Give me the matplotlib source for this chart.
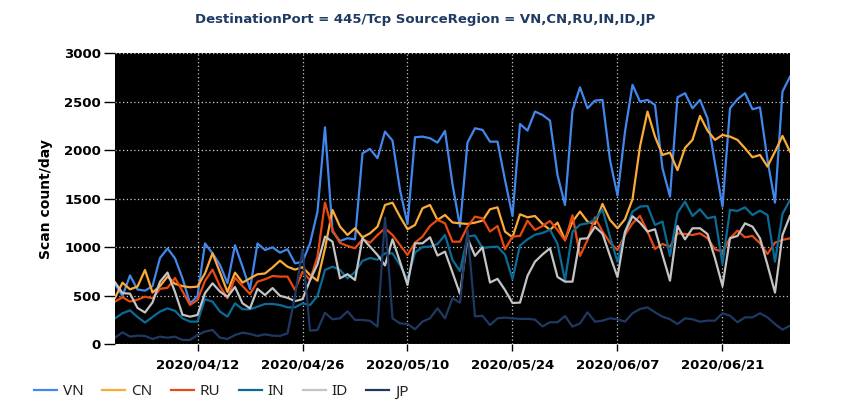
import pandas as pd
import numpy as np
import matplotlib
matplotlib.use('Agg')
import matplotlib.pyplot as plt
import matplotlib.dates as mdates

plt.rcParams['font.family'] = ['DejaVu Sans']

dates = pd.date_range(start='2020-04-01', periods=91)

vn = [620, 500, 710, 565, 553, 600, 890, 988, 886, 680, 422, 495, 1040, 938, 818, 630,
      1022, 800, 570, 1040, 972, 1000, 945, 980, 835, 850, 1040, 1368, 2237, 1161, 1065,
      1093, 1082, 1969, 2014, 1918, 2192, 2100, 1591, 1241, 2134, 2141, 2124, 2079, 2199,
      1650, 1213, 2079, 2227, 2210, 2089, 2089, 1694, 1323, 2271, 2203, 2399, 2364, 2306,
      1746, 1436, 2409, 2649, 2433, 2512, 2519, 1900, 1533, 2192, 2674, 2502, 2519, 2467,
      1814, 1522, 2546, 2588, 2433, 2519, 2330, 1866, 1419, 2433, 2526, 2588, 2423, 2443,
      1900, 1460, 2605, 2759]
cn = [480, 635, 567, 595, 766, 534, 600, 698, 624, 600, 588, 595, 732, 938, 740, 540,
      739, 636, 680, 722, 730, 792, 862, 800, 770, 795, 715, 655, 990, 1385, 1213,
      1127, 1196, 1103, 1144, 1213, 1436, 1460, 1316, 1186, 1230, 1402, 1436, 1282, 1333,
      1256, 1247, 1241, 1254, 1275, 1392, 1412, 1162, 1103, 1340, 1309, 1323, 1241, 1179,
      1254, 1075, 1265, 1368, 1265, 1241, 1447, 1282, 1196, 1289, 1495, 2038, 2399, 2141,
      1952, 1976, 1795, 2024, 2107, 2354, 2203, 2107, 2158, 2141, 2107, 2021, 1928, 1952,
      1832, 1986, 2148, 1986]
ru = [440, 485, 440, 460, 491, 474, 572, 582, 684, 548, 405, 457, 654, 770, 598, 474,
      687, 601, 519, 646, 670, 704, 698, 698, 560, 749, 663, 904, 1460, 1179, 1045,
      1014, 990, 1082, 1048, 1127, 1196, 1127, 1024, 921, 1048, 1110, 1220, 1282, 1247,
      1058, 1058, 1213, 1316, 1299, 1162, 1220, 979, 1110, 1117, 1275, 1179, 1220, 1271,
      1179, 1069, 1330, 911, 1076, 1309, 1162, 1048, 972, 1127, 1247, 1323, 1162, 983,
      1034, 1007, 1144, 1137, 1127, 1144, 1093, 979, 955, 1093, 1172, 1103, 1117, 1041,
      931, 1048, 1076, 1093]
in_ = [268, 320, 350, 282, 224, 282, 337, 371, 345, 268, 234, 234, 464, 440, 337, 285,
       423, 361, 361, 388, 416, 416, 405, 381, 381, 423, 405, 498, 766, 800, 766,
       680, 745, 860, 890, 872, 938, 938, 818, 663, 946, 1003, 1007, 1034, 1127,
       870, 755, 1110, 1122, 993, 1003, 1007, 924, 673, 1019, 1082, 1130, 1147, 1182,
       1036, 658, 1160, 1233, 1247, 1285, 1392, 1110, 852, 1161, 1368, 1419, 1426, 1230,
       1265, 911, 1354, 1471, 1323, 1392, 1299, 1316, 828, 1385, 1375, 1412, 1333, 1378,
       1333, 852, 1344, 1488]
id_ = [640, 528, 522, 375, 328, 432, 645, 740, 540, 305, 285, 302, 528, 629, 543, 490,
       591, 423, 371, 572, 508, 580, 500, 480, 445, 465, 660, 826, 1110, 1058, 680,
       723, 663, 1093, 1007, 921, 813, 1082, 852, 612, 1041, 1041, 1103, 915, 955,
       740, 520, 1093, 912, 1000, 637, 675, 560, 426, 430, 706, 852, 926, 990,
       694, 646, 646, 1087, 1093, 1212, 1140, 912, 694, 1157, 1320, 1254, 1162, 1186,
       921, 656, 1220, 1082, 1196, 1196, 1137, 887, 601, 1093, 1117, 1247, 1213, 1093,
       818, 533, 1127, 1323]
jp = [68, 124, 79, 89, 86, 55, 79, 68, 79, 45, 45, 96, 131, 148, 68, 55,
      96, 120, 107, 86, 103, 89, 86, 113, 500, 979, 141, 148, 326, 258, 268,
      340, 251, 251, 242, 182, 1305, 268, 216, 210, 155, 234, 268, 371, 268,
      474, 430, 1179, 288, 294, 199, 268, 275, 268, 262, 262, 255, 185, 227,
      227, 292, 182, 216, 330, 233, 244, 268, 258, 234, 320, 364, 381, 330,
      285, 258, 209, 268, 258, 233, 244, 244, 320, 295, 227, 278, 278, 320,
      278, 209, 151, 192]

regions = ['VN', 'CN', 'RU', 'IN', 'ID', 'JP']
series = [vn, cn, ru, in_, id_, jp]
colors = ['#4287ec', '#fbab38', '#e84a12', '#0a6c96', '#c4c4c4', '#1f3964']

fig = plt.figure(figsize=(8.5, 4.2), dpi=100)
ax = fig.add_axes([0.1353, 0.1802, 0.7941, 0.6930])
ax.set_facecolor('black')

for name, vals, c in zip(regions, series, colors):
    ax.plot(dates, vals, color=c, linewidth=1.6, label=name)

ax.set_xlim(dates[0], dates[-1])
ax.set_ylim(0, 3000)
ax.set_yticks([0, 500, 1000, 1500, 2000, 2500, 3000])
ax.set_xticks(pd.date_range('2020-04-12', '2020-06-30', freq='14D'))
ax.xaxis.set_major_formatter(mdates.DateFormatter('%Y/%m/%d'))

for s in ax.spines.values():
    s.set_visible(False)
ax.grid(True, color='#c8c8c8', linestyle=(0, (1, 2)), linewidth=0.9)
ax.tick_params(axis='y', length=8, width=1, labelsize=9.5, pad=2)
ax.tick_params(axis='x', length=5, width=1, labelsize=9.5, pad=5)
for lab in ax.get_xticklabels() + ax.get_yticklabels():
    lab.set_fontweight('bold')

ax.set_ylabel('Scan count/day', fontsize=10, fontweight='bold', labelpad=8)
fig.suptitle('DestinationPort = 445/Tcp SourceRegion = VN,CN,RU,IN,ID,JP',
             x=0.5, y=0.968, fontsize=9.5, fontweight='bold', color='#1f3a63')

fig.legend(loc='center left', bbox_to_anchor=(0.04, 0.0667), ncol=6, frameon=False,
           prop={'family': 'Noto Sans', 'size': 11}, handlelength=1.5,
           handletextpad=0.4, columnspacing=1.2,
           borderpad=0, borderaxespad=0, labelcolor='#222222')

fig.savefig('out.png', dpi=100)
